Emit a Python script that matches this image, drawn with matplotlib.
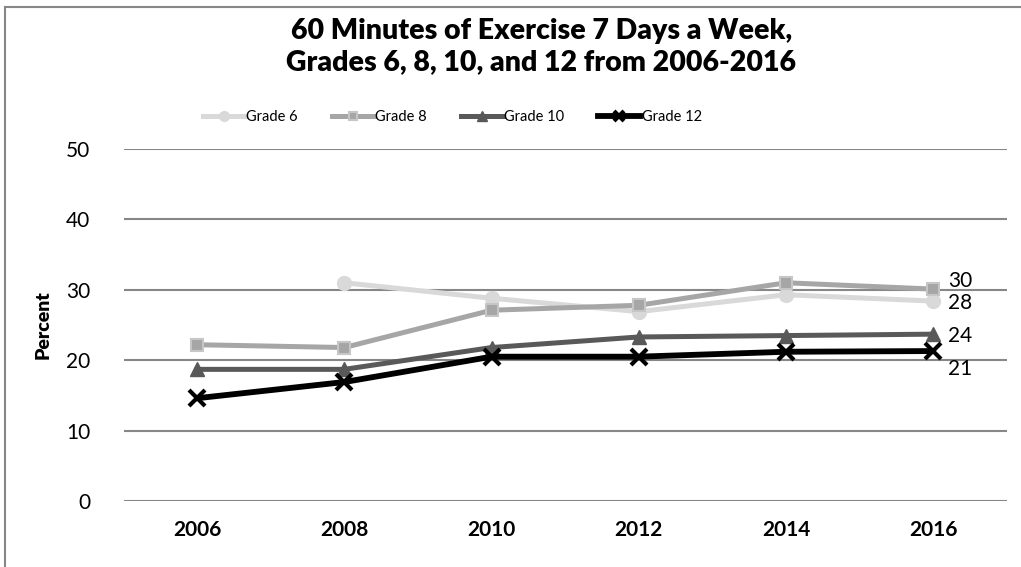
import matplotlib
matplotlib.use("Agg")
import matplotlib.pyplot as plt
import numpy as np

plt.rcParams['font.family'] = ['Lato', 'DejaVu Sans']

years = ["2006", "2008", "2010", "2012", "2014", "2016"]
grade6 = [np.nan, 31.0, 28.8, 26.9, 29.3, 28.4]
grade8 = [22.2, 21.8, 27.1, 27.8, 31.0, 30.1]
grade10 = [18.7, 18.7, 21.8, 23.3, 23.5, 23.7]
grade12 = [14.6, 16.9, 20.5, 20.5, 21.2, 21.3]
end_labels = ["28", "30", "24", "21"]

fig = plt.figure(figsize=(10.21, 5.67), dpi=100)
ax = fig.add_axes([0.121, 0.1164, 0.865, 0.6208])
x = np.arange(len(years))

ax.plot(x, grade6, "-o", color="#d9d9d9", lw=3.6, ms=10, mec="#d9d9d9", label="Grade 6", zorder=3)
ax.plot(x, grade8, "-s", color="#a6a6a6", lw=3.6, ms=9, mec="#c6c6c6", mew=1.5, label="Grade 8", zorder=4)
ax.plot(x, grade10, "-^", color="#595959", lw=3.6, ms=10, label="Grade 10", zorder=5)
ax.plot(x, grade12, "-x", color="#000000", lw=4.2, ms=11, mew=3, label="Grade 12", zorder=6)

# end-of-line value labels
offsets = [-0.3, 1.1, -0.3, -2.5]
for series, lab, off in zip([grade6, grade8, grade10, grade12], end_labels, offsets):
    ax.text(x[-1] + 0.1, series[-1] + off, lab, fontsize=15, va="center", ha="left", color="black")

ax.set_xlim(-0.5, len(years) - 0.5)
ax.set_ylim(0, 50)
ax.set_yticks(range(0, 51, 10))
ax.set_xticks(x)
ax.set_xticklabels(years, fontweight="bold", fontsize=15)
ax.tick_params(axis="y", labelsize=15, length=0, pad=24)
ax.tick_params(axis="x", length=0, pad=14)
ax.grid(axis="y", color="#878787", lw=1.5)
ax.set_axisbelow(True)
for s in ax.spines.values():
    s.set_visible(False)
ax.set_ylabel("Percent", fontweight="heavy", fontsize=14, labelpad=10)

fig.text(0.53, 0.918, "60 Minutes of Exercise 7 Days a Week,\nGrades 6, 8, 10, and 12 from 2006-2016",
         ha="center", va="center", fontsize=20.5, fontweight="heavy", linespacing=1.25)

fig.legend(loc="center", bbox_to_anchor=(0.443, 0.793), ncol=4, frameon=False,
           fontsize=10.5, handlelength=2.9, handletextpad=0.1, columnspacing=2.3, markerscale=0.7)

# outer frame (left and top edges visible in reference)
fig.add_artist(plt.Line2D([0.0045, 0.0045], [0, 0.988], color="#878787", lw=1.5, transform=fig.transFigure))
fig.add_artist(plt.Line2D([0.0045, 1.0], [0.988, 0.988], color="#878787", lw=1.5, transform=fig.transFigure))

fig.savefig("out.png", dpi=100)
